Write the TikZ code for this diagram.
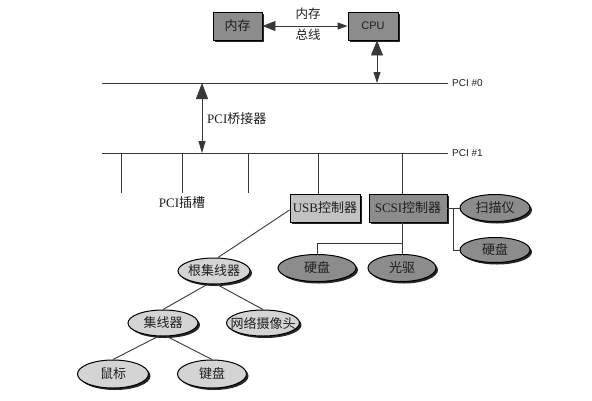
\documentclass[tikz,border=0pt]{standalone}
\usepackage{fontspec}
\setmainfont{Liberation Serif}
\setsansfont{Liberation Sans}
\newfontfamily\cjk{Noto Sans CJK SC}
\usetikzlibrary{arrows.meta,shapes.geometric,shadows}
\definecolor{dk}{gray}{0.55}
\definecolor{lt}{gray}{0.83}
\definecolor{mid}{gray}{0.76}
\definecolor{ln}{gray}{0.22}
\definecolor{tx}{gray}{0.12}
\begin{document}
\begin{tikzpicture}[x=1pt,y=-1pt,
  shad/.style={drop shadow={shadow xshift=2pt,shadow yshift=-2pt,fill=black,opacity=0.85}},
  box/.style={rectangle,draw=black,line width=0.9pt,minimum height=28pt,inner sep=0pt,shad,text=tx,font=\fontsize{13}{15}\selectfont},
  ell/.style={ellipse,draw=black,line width=1pt,inner sep=0pt,shad,text=tx,font=\fontsize{13}{15}\selectfont},
  wire/.style={draw=ln,line width=0.9pt},
  lbl/.style={text=tx,inner sep=0pt},
  buslbl/.style={text=tx,inner sep=0pt,anchor=west,font=\sffamily\fontsize{10}{12}\selectfont}]
\useasboundingbox (0,0) rectangle (592,400);
\fill[white] (0,0) rectangle (592,400);

% top boxes
\node[box,fill=dk,minimum width=49pt] (mem) at (237.5,26) {\makebox[0pt]{\cjk 内存}};
\node[box,fill=dk,minimum width=50pt,font=\sffamily\fontsize{11}{13}\selectfont] (cpu) at (373,26) {\makebox[0pt]{CPU}};
\draw[wire,{Triangle[length=13pt,width=10pt]}-{Triangle[length=10pt,width=7pt]}] (mem.east) -- (cpu.west);
\node[lbl,font=\fontsize{12.5}{14}\selectfont] (busa) at (308,14) {\cjk 内存};
\node[lbl,font=\fontsize{12.5}{14}\selectfont] (busb) at (308,35) {\cjk 总线};

% PCI buses
\coordinate (p0l) at (102,83);
\coordinate (p0r) at (448,83);
\coordinate (p1l) at (102,153);
\coordinate (p1r) at (448,153);
\draw[wire] (p0l) -- (p0r);
\draw[wire] (p1l) -- (p1r);
\node[buslbl] (l0) at (452,83) {PCI \#0};
\node[buslbl] (l1) at (452,153) {PCI \#1};

\coordinate (cpud) at (377,83);
\draw[wire,{Triangle[length=15pt,width=12pt]}-{Triangle[length=11pt,width=7pt]}] (cpu.south -| cpud) -- (cpud);

\coordinate (bt) at (202,83);
\coordinate (bb) at (202,153);
\draw[wire,{Triangle[length=16pt,width=12pt]}-{Triangle[length=12pt,width=7pt]}] (bt) -- (bb);
\node[lbl,anchor=west,font=\fontsize{13}{15}\selectfont] (bridge) at (207,119) {PCI{\cjk 桥接器}};

% slots
\foreach \x [count=\i] in {121,182,248} {
  \coordinate (s\i) at (\x,153);
  \draw[wire] (s\i) -- ++(0,40);
}
\node[lbl,font=\fontsize{13}{15}\selectfont] (slot) at (182,203) {PCI{\cjk 插槽}};

% controllers
\node[box,fill=mid,minimum width=70pt] (usb) at (325,208) {\makebox[0pt]{USB{\cjk 控制器}}};
\node[box,fill=dk,minimum width=78pt] (scsi) at (408,208) {\makebox[0pt]{SCSI{\cjk 控制器}}};
\coordinate (du) at (318,153);
\coordinate (ds) at (402,153);
\draw[wire] (du) -- (du |- usb.north);
\draw[wire] (ds) -- (ds |- scsi.north);

% SCSI devices
\node[ell,fill=dk,minimum width=70pt,minimum height=27pt] (scan) at (495,208) {\makebox[0pt]{\cjk 扫描仪}};
\node[ell,fill=dk,minimum width=70pt,minimum height=25pt] (hdr) at (495,250) {\makebox[0pt]{\cjk 硬盘}};
\node[ell,fill=dk,minimum width=78pt,minimum height=27pt] (hdm) at (317,268) {\makebox[0pt]{\cjk 硬盘}};
\node[ell,fill=dk,minimum width=68pt,minimum height=27pt] (cd) at (402,268) {\makebox[0pt]{\cjk 光驱}};
\draw[wire] (scsi.east) -- (scan.west);
\coordinate (rj) at (453,208);
\draw[wire] (rj) |- (hdr.west);
\coordinate (sj) at (402,243);
\draw[wire] (sj |- scsi.south) -- (sj);
\draw[wire] (hdm.north) |- (sj) -- (cd.north);

% USB tree
\node[ell,fill=lt,minimum width=72pt,minimum height=26pt] (root) at (214,271) {\makebox[0pt]{\cjk 根集线器}};
\node[ell,fill=lt,minimum width=70pt,minimum height=26pt] (hub) at (163,323) {\makebox[0pt]{\cjk 集线器}};
\node[ell,fill=lt,minimum width=73pt,minimum height=26pt] (cam) at (263,323) {\makebox[0pt]{\cjk 网络摄像头}};
\node[ell,fill=lt,minimum width=71pt,minimum height=28pt] (mouse) at (113,374) {\makebox[0pt]{\cjk 鼠标}};
\node[ell,fill=lt,minimum width=69pt,minimum height=28pt] (kbd) at (212,374) {\makebox[0pt]{\cjk 键盘}};

\draw[wire] ([yshift=-2pt]usb.west) -- ([xshift=4pt]root.north);
\draw[wire] ([xshift=-7pt]root.south) -- (hub.north);
\draw[wire] ([xshift=3pt]root.south) -- (cam.north);
\draw[wire] ([xshift=-5pt]hub.south) -- (mouse.north);
\draw[wire] ([xshift=4pt]hub.south) -- (kbd.north);
\end{tikzpicture}
\end{document}
